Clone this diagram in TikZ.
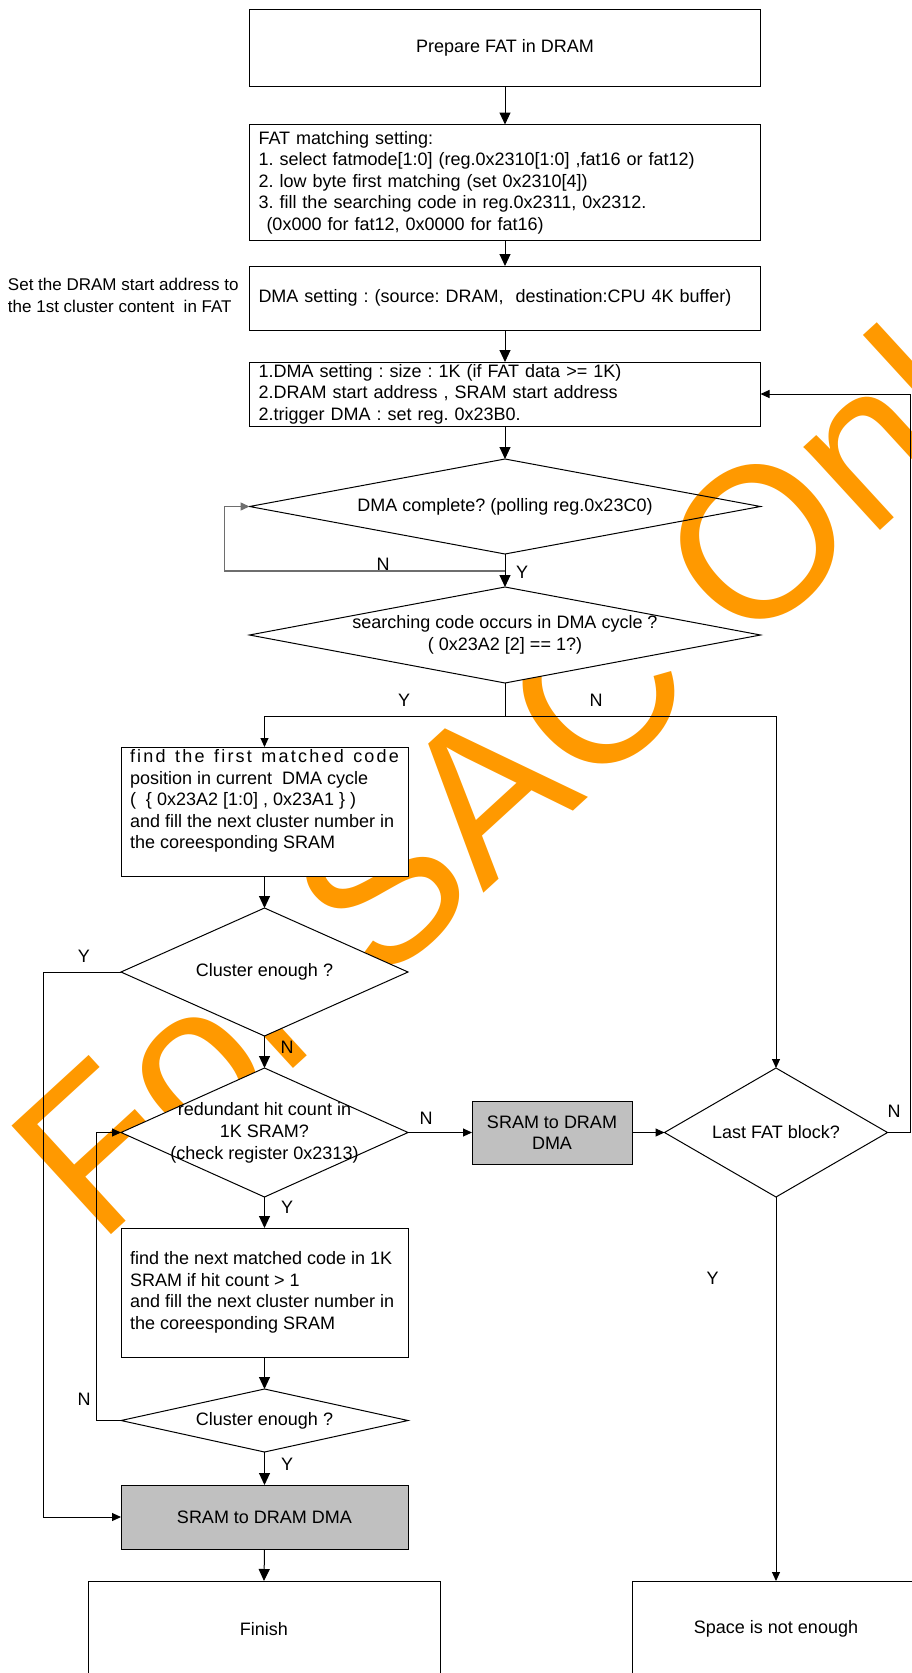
\documentclass[tikz,border=0pt]{standalone}
\usepackage{fontspec}
\setmainfont{Liberation Sans}
\usetikzlibrary{arrows.meta,shapes.geometric}
\definecolor{wmorange}{RGB}{255,153,0}
\definecolor{boxgray}{RGB}{192,192,192}
\definecolor{loopgray}{RGB}{110,110,110}
\frenchspacing
\begin{document}
\begin{tikzpicture}[x=1pt,y=-1pt,
  base/.style={font=\fontsize{18}{21.5}\selectfont, inner sep=0pt, outer sep=0pt},
  box/.style={base, rectangle, draw, fill=white, line width=1pt},
  shaded/.style={box, fill=boxgray},
  decision/.style={base, diamond, draw, fill=white, line width=1pt},
  txt/.style={base, align=left},
  ctxt/.style={base, align=center},
  lbl/.style={base},
  note/.style={base, align=left, font=\fontsize{17}{22}\selectfont},
  flow/.style={line width=1pt, -{Triangle[length=12pt,width=11pt]}},
  flowsm/.style={line width=1pt, -{Triangle[length=9pt,width=8pt]}},
  wire/.style={line width=1pt},
  stamp/.style={inner sep=0pt, anchor=base west, rotate=42.5, text=wmorange,
    font=\fontsize{214}{214}\selectfont}
]
\useasboundingbox (0,0) rectangle (912,1673);

% watermark, behind the chart
\node[stamp] (wm) at (98,1247) {For SAC Only};

% main column
\node[box, minimum width=511pt, minimum height=77pt] (p1) at (505,47.5) {Prepare FAT in DRAM};
\node[box, minimum width=511pt, minimum height=116pt, text width=493pt, align=left] (p2) at (505,182.5)
  {FAT matching setting:\\
   1. select fatmode[1:0] (reg.0x2310[1:0] ,fat16 or fat12)\\
   2. low byte first matching (set 0x2310[4])\\
   3. fill the searching code in reg.0x2311, 0x2312.\\
   \hspace*{8pt}(0x000 for fat12, 0x0000 for fat16)};
\node[box, minimum width=511pt, minimum height=64pt, text width=493pt, align=left] (p3) at (505,298)
  {DMA setting : (source: DRAM,~ destination:CPU 4K buffer)};
\node[note, anchor=west] (side) at (8,295)
  {Set the DRAM start address to\\the 1st cluster content~ in FAT};
\node[box, minimum width=511pt, minimum height=64pt, text width=493pt, align=left] (p4) at (505,394)
  {1.DMA setting : size : 1K (if FAT data >= 1K)\\
   2.DRAM start address , SRAM start address\\
   2.trigger DMA : set reg. 0x23B0.};

\node[decision, fill=none, minimum width=511pt, minimum height=95pt] (d1) at (505,506.5) {};
\node[ctxt] (d1t) at (d1.center) {DMA complete? (polling reg.0x23C0)};

\node[decision, minimum width=511pt, minimum height=96pt] (d2) at (505,635) {};
\node[ctxt] (d2t) at (d2.center) {searching code occurs in DMA cycle ?\\( 0x23A2 [2] == 1?)};

% left branch
\node[box, minimum width=287pt, minimum height=129pt] (p5) at (264.5,811.5) {};
\node[txt, anchor=north west] (p5t) at (130,749.5)
  {\makebox[269pt][l]{f\hfill i\hfill n\hfill d\hfill\ \hfill t\hfill h\hfill e\hfill\ \hfill
     f\hfill i\hfill r\hfill s\hfill t\hfill\ \hfill m\hfill a\hfill t\hfill c\hfill h\hfill e\hfill d\hfill\ \hfill
     c\hfill o\hfill d\hfill e}\\
   position in current~ DMA cycle\\
   (~ \{ 0x23A2 [1:0] , 0x23A1 \} )\\
   and fill the next cluster number in\\
   the coreesponding SRAM};

\node[decision, minimum width=287pt, minimum height=128pt] (d3) at (264.5,972) {};
\node[ctxt] (d3t) at (d3.center) {Cluster enough ?};

\node[decision, minimum width=287pt, minimum height=129pt] (d4) at (264.5,1132.5) {};
\node[ctxt, font=\fontsize{18}{22}\selectfont] (d4t) at (d4.center)
  {redundant hit count in\\1K SRAM?\\(check register 0x2313)};

\node[shaded, minimum width=160pt, minimum height=63pt, align=center] (p6) at (552,1132.5) {SRAM to DRAM\\DMA};

\node[box, minimum width=287pt, minimum height=129pt] (p7) at (264.5,1292.5) {};
\node[txt, anchor=west] (p7t) at (130,1292.5)
  {find the next matched code in 1K\\
   SRAM if hit count > 1\\
   and fill the next cluster number in\\
   the coreesponding SRAM};

\node[decision, minimum width=287pt, minimum height=63pt] (d6) at (264.5,1420.5) {};
\node[ctxt] (d6t) at (d6.center) {Cluster enough ?};

\node[shaded, minimum width=287pt, minimum height=64pt] (p8) at (264.5,1517) {SRAM to DRAM DMA};
\node[box, minimum width=352pt, minimum height=96pt] (p9) at (264,1629) {Finish};

% right branch
\node[decision, minimum width=223pt, minimum height=129pt] (d5) at (776,1132.5) {};
\node[ctxt] (d5t) at (d5.center) {Last FAT block?};
\node[box, minimum width=288pt, minimum height=96pt] (p10) at (776,1629) {Space is not enough};

% bend points of the connectors
\coordinate (j1) at (505,571);
\coordinate (l1) at (224.5,571);
\coordinate (j2) at (505,716);
\coordinate (l3) at (43.5,972);
\coordinate (l6) at (96.5,1420.5);
\coordinate (r5) at (910.5,1132.5);

% connectors
\draw[flow] (p1.south) -- (p2.north);
\draw[flow] (p2.south) -- (p3.north);
\draw[flow] (p3.south) -- (p4.north);
\draw[flow] (p4.south) -- (d1.north);
\draw[flow] (d1.south) -- (d2.north);
\draw[line width=1.4pt, loopgray, -{Triangle[length=9pt,width=8pt]}] (j1) -- (l1) |- (d1.west);
\draw[wire] (d2.south) -- (j2);
\draw[flowsm] (j2) -| (p5.north);
\draw[flowsm] (j2) -| (d5.north);
\draw[flow] (p5.south) -- (d3.north);
\draw[flowsm] (d3.west) -- (l3) |- (p8.west);
\draw[flow] (d3.south) -- (d4.north);
\draw[flowsm] (d4.east) -- (p6.west);
\draw[flowsm] (p6.east) -- (d5.west);
\draw[flowsm] (d5.east) -- (r5) |- (p4.east);
\draw[flowsm] (d5.south) -- (p10.north);
\draw[flow] (d4.south) -- (p7.north);
\draw[flow] (p7.south) -- (d6.north);
\draw[flowsm] (d6.west) -- (l6) |- (d4.west);
\draw[flow] (d6.south) -- (p8.north);
\draw[flow] (p8.south) -- (p9.north);

% branch labels
\node[lbl] (n1) at (383,564) {N};
\node[lbl] (y1) at (522,572) {Y};
\node[lbl] (y2) at (404,700) {Y};
\node[lbl] (n2) at (596,700) {N};
\node[lbl] (y3) at (84,956) {Y};
\node[lbl] (n3) at (287,1047) {N};
\node[lbl] (n4) at (426,1118) {N};
\node[lbl] (y4) at (287,1207) {Y};
\node[lbl] (n5) at (894,1111) {N};
\node[lbl] (y5) at (712.6,1278) {Y};
\node[lbl] (n6) at (84,1399) {N};
\node[lbl] (y6) at (287,1464) {Y};
\end{tikzpicture}
\end{document}
